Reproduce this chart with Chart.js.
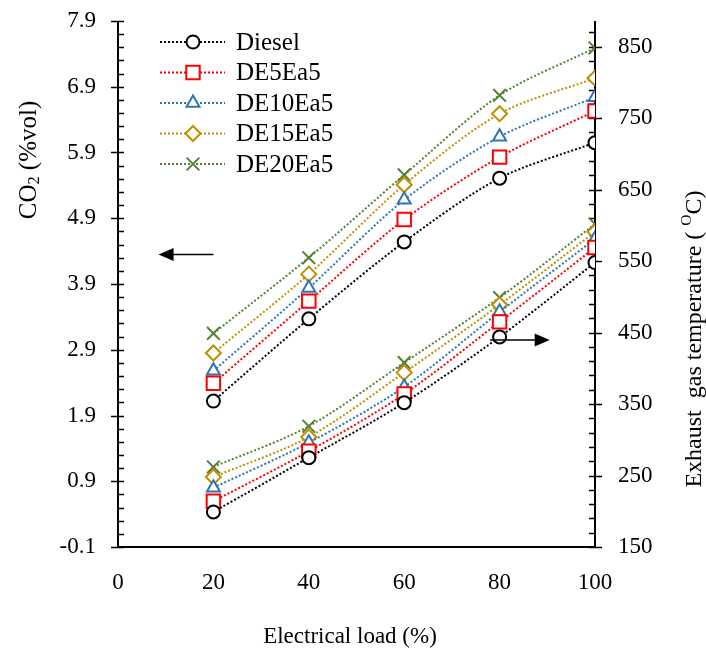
<!DOCTYPE html>
<html>
<head>
<meta charset="utf-8">
<script src="https://cdn.jsdelivr.net/npm/chart.js@4.4.1/dist/chart.umd.min.js"></script>
<style>
  html, body { margin: 0; padding: 0; background: #fff; }
  #wrap { width: 706px; height: 654px; }
</style>
</head>
<body>
<div id="wrap"><canvas id="myChart" width="706" height="654"></canvas></div>
<script>
/* globals Chart:false */
(function () {
  'use strict'

  // Data
  var loads = [20, 40, 60, 80, 100]
  var seriesNames = ['Diesel', 'DE5Ea5', 'DE10Ea5', 'DE15Ea5', 'DE20Ea5']

  var co2Diesel = [2.12, 3.37, 4.54, 5.51, 6.05]
  var co2DE5 = [2.39, 3.64, 4.88, 5.83, 6.53]
  var co2DE10 = [2.58, 3.84, 5.18, 6.14, 6.74]
  var co2DE15 = [2.85, 4.05, 5.41, 6.49, 7.03]
  var co2DE20 = [3.15, 4.30, 5.56, 6.77, 7.49]

  var tempDiesel = [199, 275, 352, 444, 548]
  var tempDE5 = [214, 284, 364, 465, 569]
  var tempDE10 = [233, 296, 374, 479, 581]
  var tempDE15 = [248, 304, 394, 489, 591]
  var tempDE20 = [262, 319, 408, 499, 602]

  var loadTicks = [0, 20, 40, 60, 80, 100]
  var co2Ticks = [-0.1, 0.9, 1.9, 2.9, 3.9, 4.9, 5.9, 6.9, 7.9]
  var tempTicks = [150, 250, 350, 450, 550, 650, 750, 850]

  // Styles
  var colors = ['#000000', '#ff0000', '#2e75b6', '#bf9000', '#548235']
  var markers = ['circle', 'rect', 'triangle', 'rectRot', 'crossRot']
  var markerSizes = [6.5, 9.5, 7.5, 7.5, 9]
  var serif = "'Liberation Serif', 'Times New Roman', serif"

  var co2Series = [co2Diesel, co2DE5, co2DE10, co2DE15, co2DE20]
  var tempSeries = [tempDiesel, tempDE5, tempDE10, tempDE15, tempDE20]

  function makeSet (name, values, i, axis) {
    return {
      label: name,
      data: loads.map(function (x, k) { return { x: x, y: values[k] } }),
      yAxisID: axis,
      borderColor: colors[i],
      backgroundColor: '#ffffff',
      borderWidth: 2,
      borderDash: [2, 2],
      tension: 0.3,
      pointStyle: markers[i],
      pointRadius: markerSizes[i],
      pointBorderWidth: 2,
      pointBorderColor: colors[i],
      pointBackgroundColor: '#ffffff'
    }
  }

  var datasets = []
  seriesNames.forEach(function (n, i) { datasets.push(makeSet(n, co2Series[i], i, 'y')) })
  seriesNames.forEach(function (n, i) { datasets.push(makeSet(n, tempSeries[i], i, 'y2')) })

  // axis lines and Excel-like tick marks
  var axisDeco = {
    id: 'axisDeco',
    beforeDatasetsDraw: function (chart) {
      var ctx = chart.ctx
      var a = chart.chartArea
      var y = chart.scales.y
      var y2 = chart.scales.y2
      ctx.save()
      ctx.strokeStyle = '#000'
      ctx.lineWidth = 2
      ctx.beginPath()
      ctx.moveTo(a.left, a.top); ctx.lineTo(a.left, a.bottom)
      ctx.moveTo(a.right, a.top); ctx.lineTo(a.right, a.bottom)
      ctx.moveTo(a.left, a.bottom); ctx.lineTo(a.right, a.bottom)
      ctx.stroke()
      ctx.lineWidth = 1.5
      ctx.beginPath()
      var v, p
      for (v = co2Ticks[0]; v <= co2Ticks[co2Ticks.length - 1] + 1e-6; v += 0.2) {
        p = Math.round(y.getPixelForValue(v)) + 0.5
        var major = co2Ticks.some(function (t) { return Math.abs(t - v) < 1e-6 })
        ctx.moveTo(a.left - (major ? 7 : 0), p)
        ctx.lineTo(a.left + 6, p)
      }
      for (v = tempTicks[0]; v <= y2.max; v += 20) {
        p = Math.round(y2.getPixelForValue(v)) + 0.5
        var maj = tempTicks.indexOf(v) >= 0
        ctx.moveTo(a.right + (maj ? 7 : 0), p)
        ctx.lineTo(a.right - 6, p)
      }
      ctx.stroke()
      ctx.restore()
    }
  }

  function drawRich (ctx, parts, size) {
    var w = 0
    parts.forEach(function (pt) {
      ctx.font = (pt.s ? size * 0.65 : size) + 'px ' + serif
      pt.w = ctx.measureText(pt.t).width
      w += pt.w
    })
    var x = -w / 2
    parts.forEach(function (pt) {
      ctx.font = (pt.s ? size * 0.65 : size) + 'px ' + serif
      var dy = pt.s === 'sub' ? size * 0.22 : (pt.s === 'sup' ? -size * 0.35 : 0)
      ctx.fillText(pt.t, x, dy)
      x += pt.w
    })
  }

  var decorations = {
    id: 'decorations',
    afterDraw: function (chart) {
      var ctx = chart.ctx
      var a = chart.chartArea
      var xs = chart.scales.x
      var ys = chart.scales.y
      ctx.save()
      ctx.fillStyle = '#000'
      ctx.textBaseline = 'middle'

      // axis titles
      ctx.save()
      ctx.translate(29, 160)
      ctx.rotate(-Math.PI / 2)
      drawRich(ctx, [{ t: 'CO' }, { t: '2', s: 'sub' }, { t: ' (%vol)' }], 25)
      ctx.restore()

      ctx.save()
      ctx.translate(695, 339)
      ctx.rotate(-Math.PI / 2)
      drawRich(ctx, [{ t: 'Exhaust  gas temperature ( ' }, { t: 'O', s: 'sup' }, { t: 'C)' }], 24)
      ctx.restore()

      ctx.save()
      ctx.translate(350, 637)
      drawRich(ctx, [{ t: 'Electrical load (%)' }], 23)
      ctx.restore()

      // legend inside plot
      ctx.font = '25px ' + serif
      ctx.textAlign = 'left'
      seriesNames.forEach(function (n, i) {
        var ly = a.top + 21 + i * 30.5
        ctx.save()
        ctx.strokeStyle = colors[i]
        ctx.lineWidth = 2
        ctx.setLineDash([2, 2])
        ctx.beginPath()
        ctx.moveTo(a.left + 42, ly)
        ctx.lineTo(a.left + 107, ly)
        ctx.stroke()
        ctx.restore()
        ctx.save()
        ctx.strokeStyle = colors[i]
        ctx.fillStyle = '#fff'
        ctx.lineWidth = 2
        Chart.helpers.drawPoint(ctx, {
          pointStyle: markers[i],
          radius: markerSizes[i],
          rotation: 0,
          borderWidth: 2
        }, a.left + 75, ly)
        ctx.restore()
        ctx.fillText(n, a.left + 118, ly + 1)
      })

      // arrows pointing to each axis
      var arrows = [
        { y: 4.35, from: 20, to: 8.5 },
        { y: 3.05, from: 78, to: 90.5 }
      ]
      arrows.forEach(function (ar) {
        var py = ys.getPixelForValue(ar.y)
        var x0 = xs.getPixelForValue(ar.from)
        var x1 = xs.getPixelForValue(ar.to)
        var dir = x1 > x0 ? 1 : -1
        ctx.strokeStyle = '#000'
        ctx.lineWidth = 1.5
        ctx.beginPath()
        ctx.moveTo(x0, py)
        ctx.lineTo(x1 - dir * 14, py)
        ctx.stroke()
        ctx.beginPath()
        ctx.moveTo(x1, py)
        ctx.lineTo(x1 - dir * 15, py - 6.5)
        ctx.lineTo(x1 - dir * 15, py + 6.5)
        ctx.closePath()
        ctx.fill()
      })
      ctx.restore()
    }
  }

  var tickFont = { family: serif, size: 23 }

  function noPad (s) {
    s.paddingTop = 0
    s.paddingBottom = 0
    s.paddingLeft = 0
    s.paddingRight = 0
  }

  var ctx = document.getElementById('myChart')
  // eslint-disable-next-line no-unused-vars
  var myChart = new Chart(ctx, {
    type: 'line',
    data: { datasets: datasets },
    plugins: [axisDeco, decorations],
    options: {
      responsive: false,
      animation: false,
      devicePixelRatio: 1,
      layout: { autoPadding: false, padding: { top: 21, left: 0, right: 0, bottom: 0 } },
      plugins: {
        legend: { display: false },
        tooltip: { enabled: false }
      },
      scales: {
        x: {
          type: 'linear',
          min: 0,
          max: 100,
          afterBuildTicks: function (s) { s.ticks = loadTicks.map(function (v) { return { value: v } }) },
          afterFit: function (s) { s.height = 107; noPad(s) },
          grid: { display: false },
          border: { display: false },
          ticks: { font: tickFont, color: '#000', padding: 14, maxRotation: 0 }
        },
        y: {
          position: 'left',
          min: -0.1,
          max: 7.9,
          afterBuildTicks: function (s) { s.ticks = co2Ticks.map(function (v) { return { value: v } }) },
          afterFit: function (s) { s.width = 118; noPad(s) },
          grid: { display: false },
          border: { display: false },
          ticks: {
            font: tickFont,
            color: '#000',
            padding: 14,
            callback: function (v) { return Number(v).toFixed(1) }
          }
        },
        y2: {
          position: 'right',
          min: 150,
          max: 886,
          afterBuildTicks: function (s) { s.ticks = tempTicks.map(function (v) { return { value: v } }) },
          afterFit: function (s) { s.width = 111; noPad(s) },
          grid: { display: false },
          border: { display: false },
          ticks: { font: tickFont, color: '#000', padding: 15 }
        }
      }
    }
  })
})()
</script>
</body>
</html>
